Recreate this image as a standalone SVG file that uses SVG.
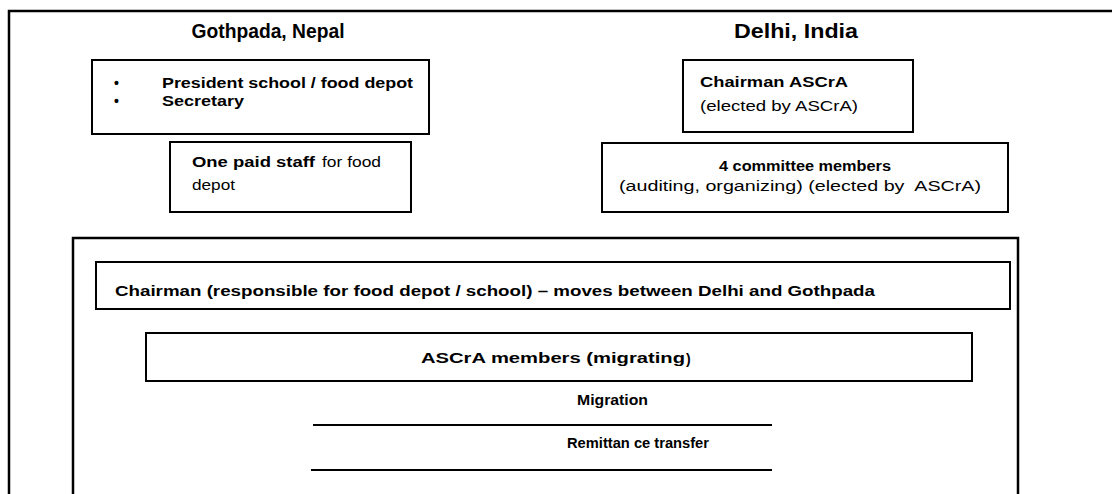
<svg xmlns="http://www.w3.org/2000/svg" width="1112" height="494" viewBox="0 0 1112 494">
<style>
.box{fill:#fff;stroke:#000;stroke-width:2}
.frame{fill:none;stroke:#000;stroke-width:2.5}
.t{font-family:"Liberation Sans",Arial,sans-serif;font-size:14px;fill:#000}
.b{font-weight:bold}
.h{font-family:"Liberation Sans",Arial,sans-serif;font-weight:bold;font-size:20px;fill:#000}
.ln{stroke:#000;stroke-width:2}
</style>
<rect width="1112" height="494" fill="#fff"/>
<g id="outer-frame"><path class="frame" d="M9,494 V11 H1112"/></g>
<g id="inner-frame"><path class="frame" d="M73,494 V238 H1018 V494"/></g>
<g id="header-nepal"><text class="h" x="268" y="38" text-anchor="middle" textLength="153" lengthAdjust="spacingAndGlyphs">Gothpada, Nepal</text></g>
<g id="header-india"><text class="h" x="796" y="38" text-anchor="middle" textLength="124" lengthAdjust="spacingAndGlyphs">Delhi, India</text></g>
<g id="node-president">
<rect class="box" x="92" y="60" width="337" height="74"/>
<text class="t b" x="114" y="88">•</text>
<text class="t b" x="162" y="88" textLength="251" lengthAdjust="spacingAndGlyphs">President school / food depot</text>
<text class="t b" x="114" y="106">•</text>
<text class="t b" x="162" y="106" textLength="82" lengthAdjust="spacingAndGlyphs">Secretary</text>
</g>
<g id="node-staff">
<rect class="box" x="170" y="142" width="241" height="70"/>
<text class="t b" x="192" y="167" textLength="123" lengthAdjust="spacingAndGlyphs">One paid staff</text>
<text class="t" x="322" y="167" textLength="59" lengthAdjust="spacingAndGlyphs">for food</text>
<text class="t" x="192" y="190" textLength="43" lengthAdjust="spacingAndGlyphs">depot</text>
</g>
<g id="node-chairman-ascra">
<rect class="box" x="683" y="60" width="230" height="72"/>
<text class="t b" x="700" y="87" textLength="148" lengthAdjust="spacingAndGlyphs">Chairman ASCrA</text>
<text class="t" x="700" y="111" textLength="158" lengthAdjust="spacingAndGlyphs">(elected by ASCrA)</text>
</g>
<g id="node-committee">
<rect class="box" x="602" y="143" width="406" height="69"/>
<text class="t b" x="805" y="171" text-anchor="middle" textLength="172" lengthAdjust="spacingAndGlyphs">4 committee members</text>
<text class="t" x="800" y="191" text-anchor="middle" textLength="362" lengthAdjust="spacingAndGlyphs" xml:space="preserve">(auditing, organizing) (elected by  ASCrA)</text>
</g>
<g id="node-chairman-moves">
<rect class="box" x="96" y="262" width="914" height="47"/>
<text class="t b" x="115" y="296" textLength="760" lengthAdjust="spacingAndGlyphs">Chairman (responsible for food depot / school) – moves between Delhi and Gothpada</text>
</g>
<g id="node-members">
<rect class="box" x="146" y="333" width="826" height="48"/>
<text class="t b" x="421" y="363" font-size="16" textLength="264" lengthAdjust="spacingAndGlyphs">ASCrA members (migrating</text>
<text class="t b" x="686" y="364" font-size="21">)</text>
</g>
<g id="connectors">
<text class="t b" x="577" y="405" font-size="13" textLength="71" lengthAdjust="spacingAndGlyphs">Migration</text>
<line class="ln" x1="313" y1="425" x2="772" y2="425"/>
<text class="t b" x="567" y="448" font-size="13" textLength="142" lengthAdjust="spacingAndGlyphs">Remittan ce transfer</text>
<line class="ln" x1="311" y1="470" x2="772" y2="470"/>
</g>
</svg>
